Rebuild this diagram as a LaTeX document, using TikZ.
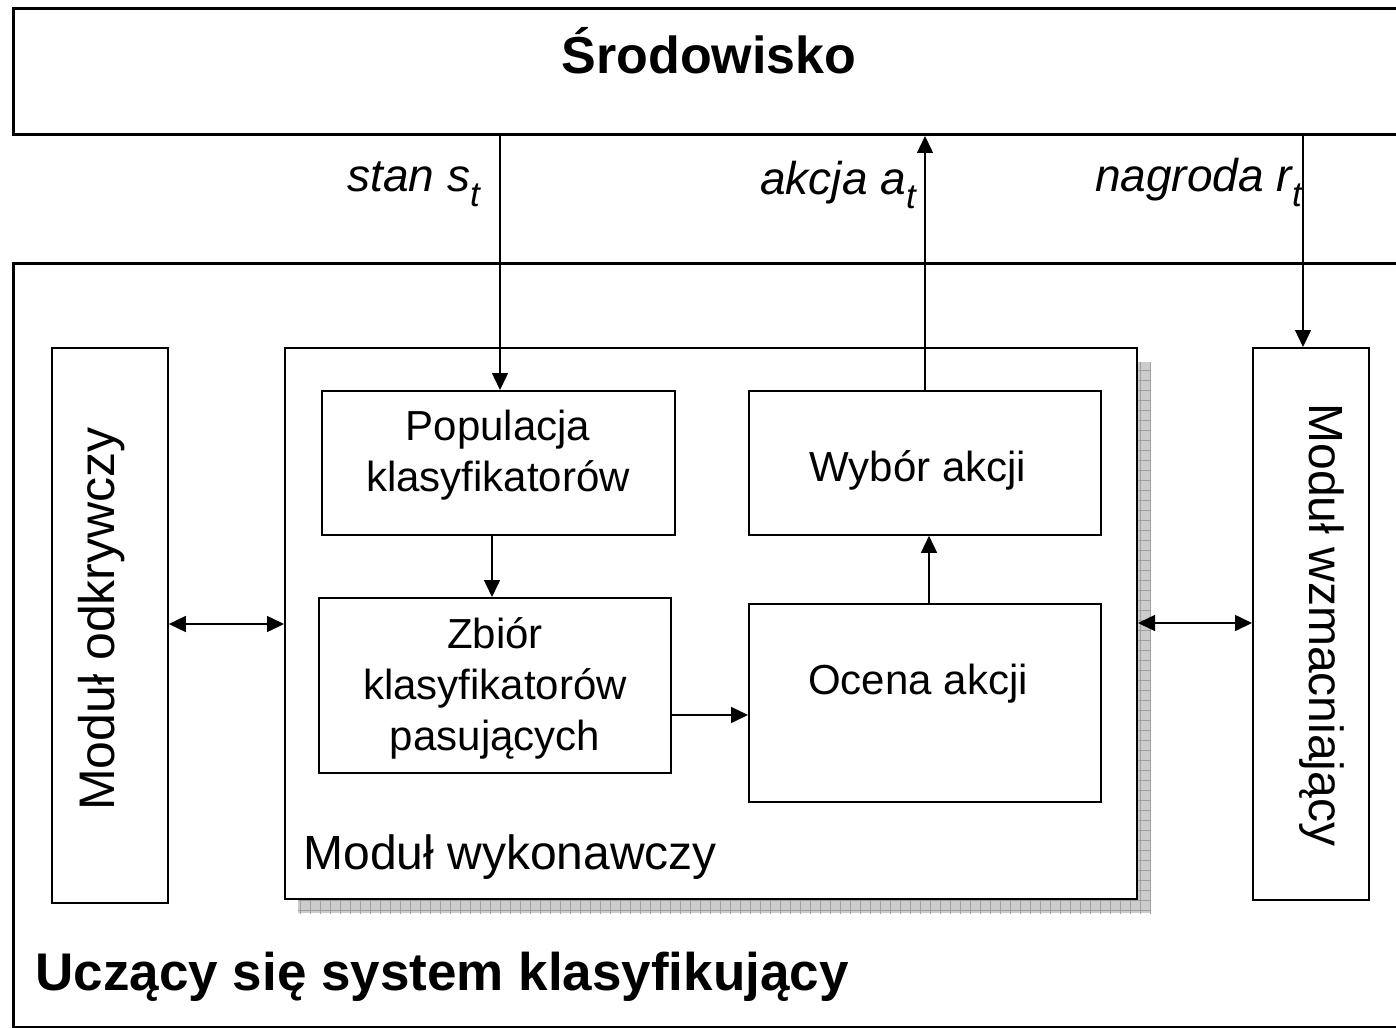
\documentclass[tikz,border=0pt]{standalone}
\usepackage{fontspec}
\setmainfont{Liberation Sans}
\usetikzlibrary{arrows.meta,calc}
\begin{document}
\begin{tikzpicture}[x=1pt,y=-1pt,
  frame/.style={draw, line width=3pt, anchor=north west, inner sep=0pt},
  box/.style={draw, line width=1.8pt, fill=white, anchor=north west, inner sep=0pt},
  txt/.style={align=center, font=\fontsize{42}{51}\selectfont},
  lbl/.style={font=\fontsize{46}{50}\selectfont\itshape, anchor=base east, inner sep=0pt},
  arr/.style={line width=1.5pt, -{Triangle[length=17pt,width=16pt]}},
  darr/.style={line width=1.5pt, {Triangle[length=17pt,width=16pt]}-{Triangle[length=17pt,width=16pt]}}]
\clip (0,0) rectangle (1396,1027);
\newcommand{\subt}{\raisebox{-14pt}{\fontsize{35}{35}\selectfont\itshape t}}
% outer frames
\node[frame, minimum width=1420pt, minimum height=126pt] (env) at (12,7) {};
\node[font=\fontsize{52}{60}\selectfont\bfseries] (envt) at (709,51) {Środowisko};
\node[frame, minimum width=1420pt, minimum height=764pt] (sys) at (12,262) {};
\node[font=\fontsize{53}{60}\selectfont\bfseries, anchor=west] (syst) at (32,977) {Uczący się system klasyfikujący};
% shadow
\begin{scope}
\clip (298,362) rectangle (1151,913);
\fill[gray!40] (298,362) rectangle (1151,913);
\draw[gray!75, line width=0.7pt, step=10pt] (290,350) grid (1160,920);
\end{scope}
% modules
\node[box, minimum width=116pt, minimum height=555pt] (odk) at (51,347) {};
\node[txt, rotate=90, font=\fontsize{50}{50}\selectfont] (odkt) at (102,619) {Moduł odkrywczy};
\node[box, minimum width=852pt, minimum height=551pt] (wyk) at (284,347) {};
\node[box, minimum width=116pt, minimum height=552pt] (wzm) at (1252,347) {};
\node[txt, rotate=-90, font=\fontsize{48}{50}\selectfont] (wzmt) at (1322,625) {Moduł wzmacniający};
\node[anchor=west, font=\fontsize{48}{50}\selectfont] (wykt) at (300,857) {Moduł wykonawczy};
% inner boxes
\node[box, minimum width=353pt, minimum height=144pt] (pop) at (321,390) {};
\node[txt] (popt) at (498,455) {Populacja\\klasyfikatorów};
\node[box, minimum width=352pt, minimum height=175pt] (zb) at (318,597) {};
\node[txt] (zbt) at (495,688) {Zbiór\\klasyfikatorów\\pasujących};
\node[box, minimum width=352pt, minimum height=144pt] (wyb) at (748,390) {};
\node[txt] (wybt) at (918,470) {Wybór akcji};
\node[box, minimum width=352pt, minimum height=198pt] (oc) at (748,603) {};
\node[txt] (oct) at (918,684) {Ocena akcji};
% labels
\node[lbl] (st) at (480,192) {stan s\subt};
\node[lbl] (at) at (916,194) {akcja a\subt};
\node[lbl] (rt) at (1302,192) {nagroda r\subt};
% connectors
\coordinate (sIn) at (500,133);
\draw[arr] (sIn) -- (pop.north -| sIn);
\coordinate (aX) at (925,390);
\draw[arr] (aX) -- (env.south -| aX);
\coordinate (rX) at (1303,133);
\draw[arr] (rX) -- (wzm.north -| rX);
\coordinate (pz) at (492,534);
\draw[arr] (pz) -- (zb.north -| pz);
\coordinate (zo) at (670,715);
\draw[arr] (zo) -- (oc.west |- zo);
\coordinate (ow) at (929,603);
\draw[arr] (ow) -- (wyb.south -| ow);
\coordinate (dl) at (167,624);
\draw[darr] (odk.east |- dl) -- (wyk.west |- dl);
\coordinate (dr) at (1138,623);
\draw[darr] (dr) -- (wzm.west |- dr);
\end{tikzpicture}
\end{document}
